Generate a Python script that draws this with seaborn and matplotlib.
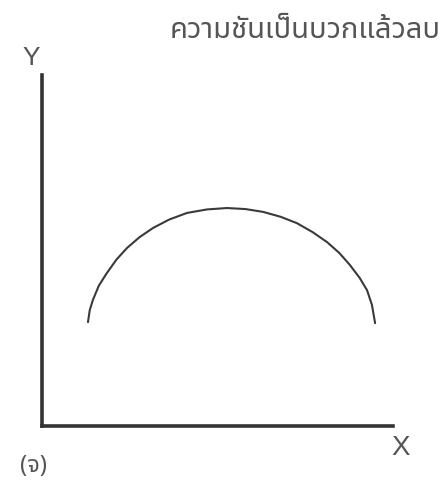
import matplotlib
matplotlib.use("Agg")
import matplotlib.pyplot as plt
import seaborn as sns
import pandas as pd

# curve (axis units 0..10)
curve_x = [1.31, 1.36, 1.45, 1.62, 1.85, 2.12, 2.42, 2.78, 3.16, 3.62, 4.13, 4.70, 5.27,
           5.80, 6.30, 6.80, 7.26, 7.70, 8.12, 8.47, 8.77, 9.05, 9.26, 9.40, 9.49]
curve_y = [2.96, 3.30, 3.59, 4.00, 4.36, 4.74, 5.07, 5.38, 5.64, 5.88, 6.07, 6.17, 6.21,
           6.18, 6.10, 5.96, 5.78, 5.53, 5.24, 4.93, 4.59, 4.22, 3.87, 3.45, 2.93]
title = "ความชันเป็นบวกแล้วลบ"
x_name = "X"
y_name = "Y"
panel = "(จ)"

df = pd.DataFrame({"x": curve_x, "y": curve_y})

sns.set_theme(style="white")
plt.rcParams["font.family"] = ["Liberation Sans", "DejaVu Sans"]

fig = plt.figure(figsize=(4.44, 4.83), dpi=100)
ax = fig.add_axes([42 / 444, (483 - 426) / 483, 351 / 444, 351 / 483])

sns.lineplot(data=df, x="x", y="y", sort=False, color="#3a3a3a", linewidth=1.5, ax=ax)

ax.set_xlim(0, 10)
ax.set_ylim(0, 10)
ax.set_xticks([])
ax.set_yticks([])
ax.set_xlabel("")
ax.set_ylabel("")
sns.despine(ax=ax)
for s in ["left", "bottom"]:
    ax.spines[s].set_color("#333333")
    ax.spines[s].set_linewidth(2.6)
    ax.spines[s].set_capstyle("projecting")

fig.text(305 / 444, 1 - 31 / 483, title, ha="center", va="center", fontsize=21,
         color="#555555", family=["Noto Sans Thai", "DejaVu Sans"], fontweight="light")
fig.text(31 / 444, 1 - 58 / 483, y_name, ha="center", va="center", fontsize=19,
         color="#555555", fontweight="light")
fig.text(401 / 444, 1 - 448 / 483, x_name, ha="center", va="center", fontsize=20,
         color="#555555", fontweight="light")
fig.text(33 / 444, 1 - 466 / 483, panel, ha="center", va="center", fontsize=17,
         color="#555555", family=["Noto Sans Thai", "DejaVu Sans"])

fig.savefig("out.png", dpi=100, facecolor="white")
